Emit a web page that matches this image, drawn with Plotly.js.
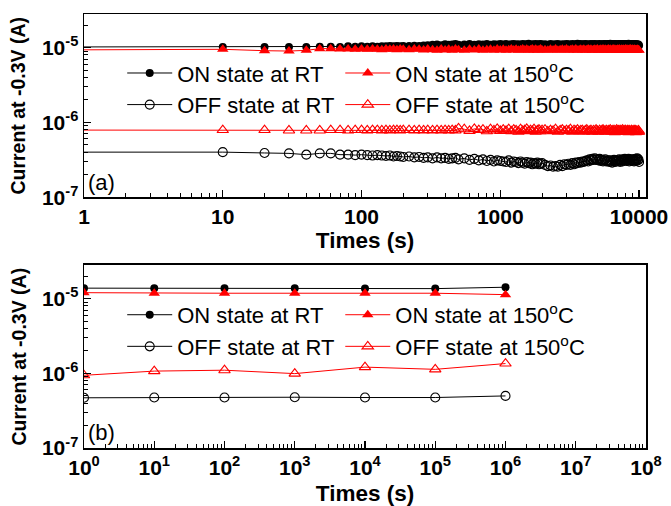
<!DOCTYPE html>
<html>
<head>
<meta charset="utf-8">
<script src="https://cdn.plot.ly/plotly-3.0.1.min.js"></script>
<style>html,body{margin:0;padding:0;background:#fff;}#chart{width:671px;height:506px;}</style>
</head>
<body>
<div id="chart"></div>
<script>
// ---------- Panel (a): retention up to 10^4 s ----------
// first entry (0.5 s) is the lead-in of the trace, left of the axis start
const timesA = [0.5,10,20,30,40,50,60,70,80,90,100,110,120,130,140,150,160,170,180,190,200,
  220,240,260,280,300,325,350,375,400,425,450,475,500,
  550,600,650,700,750,800,850,900,950,1000,
  1050,1100,1150,1200,1250,1300,1350,1400,1450,1500,1550,1600,1650,1700,1750,1800,1850,1900,1950,2000,
  2100,2200,2300,2400,2500,2600,2700,2800,2900,3000,
  3100,3200,3300,3400,3500,3600,3700,3800,3900,4000,
  4100,4200,4300,4400,4500,4600,4700,4800,4900,5000,
  5100,5200,5300,5400,5500,5600,5700,5800,5900,6000,
  6100,6200,6300,6400,6500,6600,6700,6800,6900,7000,
  7100,7200,7300,7400,7500,7600,7700,7800,7900,8000,
  8100,8200,8300,8400,8500,8600,8700,8800,8900,9000,
  9100,9200,9300,9400,9500,9600,9700,9800,9900,10000];

// values in units of 1e-5 A
const onRT_A = [1.02,1.02,1.02,1.02,1.02,1.03,1.03,1.02,1.04,1.03,1.04,1.03,1.04,1.03,1.04,1.04,1.05,1.04,1.05,1.04,1.05,
  1.05,1.06,1.05,1.07,1.08,1.09,1.10,1.08,1.11,1.09,1.10,1.12,1.09,
  1.10,1.12,1.09,1.11,1.10,1.12,1.09,1.11,1.10,1.12,
  1.10,1.12,1.09,1.11,1.12,1.10,1.11,1.09,1.12,1.10,1.11,1.13,1.09,1.11,1.10,1.12,1.09,1.11,1.12,1.10,
  1.11,1.09,1.12,1.10,1.11,1.12,1.09,1.11,1.10,1.12,
  1.11,1.09,1.12,1.10,1.11,1.13,1.10,1.12,1.09,1.11,
  1.12,1.10,1.11,1.09,1.12,1.10,1.11,1.12,1.09,1.11,
  1.10,1.12,1.09,1.11,1.10,1.12,1.11,1.09,1.12,1.10,
  1.11,1.13,1.10,1.12,1.09,1.11,1.12,1.10,1.11,1.09,
  1.12,1.10,1.11,1.12,1.09,1.11,1.10,1.12,1.11,1.09,
  1.12,1.10,1.11,1.13,1.10,1.12,1.09,1.11,1.10,1.12,
  1.09,1.11,1.10,1.12,1.09,1.10,1.11,1.09,1.10,1.07];
const on150_A = [0.93,0.95,0.91,0.90,0.92,0.97,0.97,0.96,0.96,0.95,0.96,0.95,0.96,0.95,0.94,0.96,0.95,0.96,0.94,0.96,0.95,
  0.94,0.96,0.95,0.93,0.96,0.94,0.92,0.96,0.93,0.95,0.92,0.96,0.94,
  0.92,0.95,0.93,0.96,0.92,0.94,0.95,0.92,0.96,0.93,
  0.95,0.92,0.94,0.96,0.93,0.95,0.92,0.94,0.96,0.93,0.95,0.92,0.94,0.96,0.93,0.95,0.92,0.94,0.96,0.93,
  0.94,0.92,0.95,0.93,0.96,0.92,0.94,0.95,0.93,0.96,
  0.92,0.94,0.95,0.93,0.96,0.92,0.94,0.95,0.93,0.95,
  0.92,0.94,0.96,0.93,0.95,0.92,0.94,0.95,0.93,0.96,
  0.92,0.94,0.95,0.93,0.96,0.92,0.95,0.93,0.94,0.96,
  0.93,0.95,0.92,0.94,0.96,0.93,0.95,0.92,0.94,0.95,
  0.93,0.96,0.92,0.94,0.95,0.93,0.95,0.92,0.94,0.96,
  0.93,0.95,0.92,0.94,0.95,0.93,0.96,0.92,0.94,0.95,
  0.92,0.94,0.95,0.93,0.94,0.92,0.95,0.93,0.94,0.92];
// values in units of 1e-7 A
const offRT_A = [4.0,4.0,3.9,3.85,3.7,3.85,3.85,3.7,3.7,3.65,3.7,3.65,3.6,3.65,3.6,3.55,3.6,3.5,3.55,3.5,3.45,
  3.5,3.4,3.45,3.35,3.4,3.3,3.4,3.3,3.35,3.25,3.3,3.35,3.2,
  3.3,3.15,3.25,3.1,3.2,3.05,3.15,3.0,3.1,3.05,
  3.0,2.95,3.1,2.9,3.0,2.95,2.85,3.0,2.9,2.8,2.95,2.85,2.9,2.75,2.85,2.8,2.9,2.75,2.8,2.85,
  2.7,2.6,2.65,2.55,2.6,2.55,2.7,2.6,2.75,2.7,
  2.8,2.7,2.85,2.75,2.9,2.85,2.95,2.9,3.0,2.95,
  3.05,3.1,3.0,3.2,3.1,3.25,3.15,3.3,3.15,3.2,
  3.1,3.25,3.05,3.15,3.0,3.1,3.2,3.0,3.05,3.1,
  2.95,3.1,3.0,2.9,3.05,3.15,2.95,3.1,3.0,3.1,
  3.05,3.2,2.95,3.1,3.15,3.0,3.2,3.1,3.25,3.15,
  3.05,3.2,3.1,3.25,3.0,3.15,3.2,3.05,3.15,3.1,
  3.2,3.0,3.1,3.25,3.05,3.2,3.3,3.1,3.2,2.95];
const off150_A = [7.9,7.9,7.9,7.8,7.8,7.8,7.9,7.9,7.8,7.9,7.9,7.8,7.9,7.9,7.8,7.9,7.8,7.9,7.9,7.8,7.9,
  7.9,7.8,7.9,7.8,7.9,7.8,7.9,7.8,7.9,7.8,7.9,7.8,8.3,
  8.1,7.7,8.2,7.9,8.0,7.6,8.1,7.8,8.2,7.7,
  8.0,7.7,8.1,7.6,8.0,7.8,7.5,8.1,7.7,7.9,8.2,7.6,7.9,7.7,8.1,7.5,7.8,8.0,7.6,7.9,
  8.0,7.6,7.9,7.7,8.1,7.5,7.8,8.0,7.6,7.9,
  7.7,8.1,7.5,7.9,7.7,8.0,7.6,7.8,7.9,7.5,
  7.8,8.0,7.6,7.7,7.9,7.5,7.8,7.6,8.0,7.7,
  7.5,7.9,7.6,7.8,8.0,7.7,7.5,7.9,7.6,7.8,
  7.7,8.0,7.5,7.8,7.6,7.9,7.4,7.7,8.0,7.6,
  7.8,7.5,7.9,7.6,7.7,8.0,7.5,7.8,7.6,7.9,
  7.5,7.7,7.9,7.4,7.8,7.6,7.5,7.9,7.6,7.7,
  7.5,7.9,7.6,7.8,7.4,7.7,7.6,7.5,7.8,7.5];

// ---------- Panel (b): extrapolated retention ----------
const timesB = [1,10,100,1000,10000,100000,1000000];
const onRT_B   = [1.38,1.38,1.38,1.38,1.36,1.36,1.42];   // 1e-5 A
const on150_B  = [1.20,1.18,1.18,1.18,1.18,1.18,1.13];   // 1e-5 A
const offRT_B  = [4.70,4.74,4.74,4.78,4.74,4.74,4.98];   // 1e-7 A
const off150_B = [9.4,10.7,11.0,9.9,12.1,11.3,13.5];     // 1e-7 A

const seriesNames = ['ON state at RT','ON state at 150<sup>o</sup>C','OFF state at RT','OFF state at 150<sup>o</sup>C'];
const xTicksA = [1,10,100,1000,10000];
const xTickTextA = ['1','10','100','1000','10000'];
const xTicksB = [1,10,100,1000,10000,100000,1000000,10000000,100000000];
const xTickTextB = ['10<sup>0</sup>','10<sup>1</sup>','10<sup>2</sup>','10<sup>3</sup>','10<sup>4</sup>','10<sup>5</sup>','10<sup>6</sup>','10<sup>7</sup>','10<sup>8</sup>'];
const yTicks = [1e-7,1e-6,1e-5];
const yTickText = ['10<sup>-7</sup>','10<sup>-6</sup>','10<sup>-5</sup>'];
const xTitle = 'Times (s)';
const yTitle = 'Current at -0.3V (A)';

const E5 = v => v.map(a => a * 1e-5);
const E7 = v => v.map(a => a * 1e-7);

const FONT = 'Liberation Sans, Arial, sans-serif';
const RED = '#ff0000', BLK = '#000000';

function styles(i) {
  return [
    {line:{color:BLK,width:1}, marker:{symbol:'circle', size:8, color:BLK}},
    {line:{color:RED,width:1}, marker:{symbol:'triangle-up', size:10, color:RED}},
    {line:{color:BLK,width:1}, marker:{symbol:'circle-open', size:9, color:BLK, line:{width:1.1}}},
    {line:{color:RED,width:1}, marker:{symbol:'triangle-up-open', size:10, color:RED, line:{width:1.1}}}
  ][i];
}

const dataA = [E5(onRT_A), E5(on150_A), E7(offRT_A), E7(off150_A)];
const dataB = [E5(onRT_B), E5(on150_B), E7(offRT_B), E7(off150_B)];
// RT series go in the left legend column, 150 °C series in the right one
const legA = ['legend','legend3','legend','legend3'];
const legB = ['legend2','legend4','legend2','legend4'];

const traces = [];
dataA.forEach((y, i) => {
  traces.push(Object.assign({type:'scatter', mode:'lines+markers', x:timesA, y:y, name:seriesNames[i],
    xaxis:'x', yaxis:'y', legend:legA[i], cliponaxis:true}, styles(i)));
});
dataB.forEach((y, i) => {
  traces.push(Object.assign({type:'scatter', mode:'lines+markers', x:timesB, y:y, name:seriesNames[i],
    xaxis:'x2', yaxis:'y2', legend:legB[i], cliponaxis:true}, styles(i)));
});

function minorVals(maxDec) {
  const out = [];
  for (let d = 0; d < maxDec; d++) for (let k = 2; k <= 9; k++) out.push(k * Math.pow(10, d));
  return out;
}
function minorValsY() {
  const out = [];
  for (let d = -7; d < -4; d++) for (let k = 2; k <= 9; k++) out.push(k * Math.pow(10, d));
  return out;
}

const tickFont = {family:FONT, size:21, color:'#000', weight:'bold'};
const baseAxis = {
  type:'log', showgrid:false, zeroline:false, showline:true, linecolor:'#000', linewidth:1.5, mirror:true,
  ticks:'inside', ticklen:7, tickwidth:1.3, tickcolor:'#000', tickmode:'array', tickfont:tickFont
};

function xAxis(range, vals, text, anchor, maxDec, standoff) {
  return Object.assign({}, baseAxis, {
    range:range, tickvals:vals, ticktext:text, anchor:anchor,
    minor:{tickmode:'array', tickvals:minorVals(maxDec), ticks:'inside', ticklen:4, tickwidth:1, tickcolor:'#000', showgrid:false},
    title:{text:xTitle, font:{family:FONT, size:22.5, color:'#000', weight:'bold'}, standoff:standoff}
  });
}
function yAxis(domain, anchor) {
  return Object.assign({}, baseAxis, {
    range:[-7,-4.55], domain:domain, anchor:anchor, tickvals:yTicks, ticktext:yTickText,
    minor:{tickmode:'array', tickvals:minorValsY(), ticks:'inside', ticklen:4, tickwidth:1, tickcolor:'#000', showgrid:false}
  });
}

const legendBase = {
  orientation:'v', xref:'paper', yref:'paper', xanchor:'left', yanchor:'top',
  bgcolor:'rgba(0,0,0,0)', borderwidth:0, itemwidth:45, tracegroupgap:0, traceorder:'normal',
  font:{family:FONT, size:22, color:'#000'}
};
const colL = 0.068, colR = 0.456;
const yTitleFont = {family:FONT, size:19.5, color:'#000', weight:'bold'};

const layout = {
  width:671, height:506,
  margin:{l:84, r:25, t:14, b:58},
  paper_bgcolor:'#fff', plot_bgcolor:'#fff',
  showlegend:true,
  font:{family:FONT, color:'#000'},
  xaxis:xAxis([0,4.05], xTicksA, xTickTextA, 'y', 5, 0),
  yaxis:yAxis([0.578,1], 'x'),
  xaxis2:xAxis([0,8], xTicksB, xTickTextB, 'y2', 8, 10),
  yaxis2:yAxis([0,0.4217], 'x2'),
  legend:Object.assign({}, legendBase, {x:colL, y:0.912}),
  legend3:Object.assign({}, legendBase, {x:colR, y:0.912}),
  legend2:Object.assign({}, legendBase, {x:colL, y:0.355}),
  legend4:Object.assign({}, legendBase, {x:colR, y:0.355}),
  annotations:[
    {text:yTitle, xref:'paper', yref:'paper', x:-0.1174, y:0.789, xanchor:'center', yanchor:'middle',
     textangle:-90, showarrow:false, font:yTitleFont},
    {text:yTitle, xref:'paper', yref:'paper', x:-0.1174, y:0.2108, xanchor:'center', yanchor:'middle',
     textangle:-90, showarrow:false, font:yTitleFont},
    {text:'(a)', xref:'paper', yref:'paper', x:0.004, y:0.6106, xanchor:'left', yanchor:'middle', showarrow:false,
     font:{family:FONT, size:22, color:'#000'}},
    {text:'(b)', xref:'paper', yref:'paper', x:0.004, y:0.0346, xanchor:'left', yanchor:'middle', showarrow:false,
     font:{family:FONT, size:22, color:'#000'}}
  ]
};

Plotly.newPlot('chart', traces, layout, {staticPlot:true, displayModeBar:false});
</script>
</body>
</html>
